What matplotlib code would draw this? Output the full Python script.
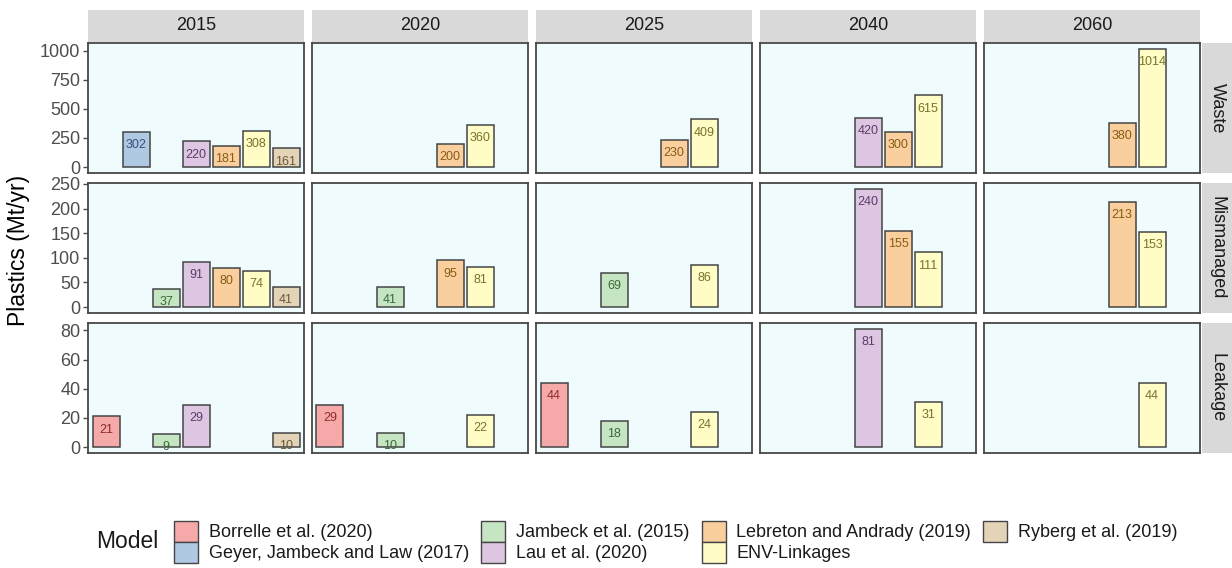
import matplotlib
matplotlib.use("Agg")
import matplotlib.pyplot as plt
from matplotlib.patches import Patch

plt.rcParams["font.family"] = ["Liberation Sans", "DejaVu Sans"]

# ---- data -------------------------------------------------------------
years = ["2015", "2020", "2025", "2040", "2060"]
metrics = ["Waste", "Mismanaged", "Leakage"]
models = [
    "Borrelle et al. (2020)",
    "Geyer, Jambeck and Law (2017)",
    "Jambeck et al. (2015)",
    "Lau et al. (2020)",
    "Lebreton and Andrady (2019)",
    "ENV-Linkages",
    "Ryberg et al. (2019)",
]

# values per model, one entry per year (None = not reported)
waste = {
    "Geyer, Jambeck and Law (2017)": [302, None, None, None, None],
    "Lau et al. (2020)":             [220, None, None, 420, None],
    "Lebreton and Andrady (2019)":   [181, 200, 230, 300, 380],
    "ENV-Linkages":                  [308, 360, 409, 615, 1014],
    "Ryberg et al. (2019)":          [161, None, None, None, None],
}
mismanaged = {
    "Jambeck et al. (2015)":         [37, 41, 69, None, None],
    "Lau et al. (2020)":             [91, None, None, 240, None],
    "Lebreton and Andrady (2019)":   [80, 95, None, 155, 213],
    "ENV-Linkages":                  [74, 81, 86, 111, 153],
    "Ryberg et al. (2019)":          [41, None, None, None, None],
}
leakage = {
    "Borrelle et al. (2020)":        [21, 29, 44, None, None],
    "Jambeck et al. (2015)":         [9, 10, 18, None, None],
    "Lau et al. (2020)":             [29, None, None, 81, None],
    "ENV-Linkages":                  [None, 22, 24, 31, 44],
    "Ryberg et al. (2019)":          [10, None, None, None, None],
}
metric_data = [waste, mismanaged, leakage]
metric_ticks = [
    [0, 250, 500, 750, 1000],
    [0, 50, 100, 150, 200, 250],
    [0, 20, 40, 60, 80],
]

fills = {
    "Borrelle et al. (2020)":        "#F6A9A9",
    "Geyer, Jambeck and Law (2017)": "#AFC9E2",
    "Jambeck et al. (2015)":         "#C6E5C3",
    "Lau et al. (2020)":             "#DCC6E2",
    "Lebreton and Andrady (2019)":   "#F9CF9E",
    "ENV-Linkages":                  "#FFFCC6",
    "Ryberg et al. (2019)":          "#E3D4B8",
}
text_cols = {
    "Borrelle et al. (2020)":        "#8E2B2B",
    "Geyer, Jambeck and Law (2017)": "#34507A",
    "Jambeck et al. (2015)":         "#3A6B38",
    "Lau et al. (2020)":             "#5B3E6B",
    "Lebreton and Andrady (2019)":   "#8A5A14",
    "ENV-Linkages":                  "#77742A",
    "Ryberg et al. (2019)":          "#6A5738",
}

# ---- layout (pixels) ---------------------------------------------------
W, H = 1232, 568
fig = plt.figure(figsize=(W / 100, H / 100), dpi=100)
fig.patch.set_facecolor("white")

col_left = [88, 312, 536, 760, 984]
row_top = [43, 183, 323]
pw, ph = 216, 130
panel_bg = "#F0FBFD"
border = "#474747"
strip_bg = "#D9D9D9"
small = 13


def fig_rect(x, y, w, h):
    return [x / W, 1 - (y + h) / H, w / W, h / H]


xpos = {m: i + 1 for i, m in enumerate(models)}

for r, (metric, data) in enumerate(zip(metrics, metric_data)):
    ymax = max(v for vals in data.values() for v in vals if v is not None)
    lo, hi = -0.05 * ymax, ymax * 1.05
    for c, year in enumerate(years):
        ax = fig.add_axes(fig_rect(col_left[c], row_top[r], pw, ph))
        ax.set_facecolor(panel_bg)
        ax.set_xlim(0.4, 7.6)
        ax.set_ylim(lo, hi)
        for m in models:
            if m not in data:
                continue
            v = data[m][c]
            if v is None:
                continue
            ax.bar(xpos[m], v, width=0.9, color=fills[m],
                   edgecolor="#454545", linewidth=1.1, zorder=2)
            ax.annotate(str(v), (xpos[m], v), xytext=(0, -9.5),
                        textcoords="offset points", ha="center",
                        va="center", fontsize=9, color=text_cols[m],
                        zorder=3)
        for s in ax.spines.values():
            s.set_color(border)
            s.set_linewidth(1.3)
            s.set_zorder(4)
        ax.set_xticks([])
        ax.set_yticks(metric_ticks[r])
        if c == 0:
            ax.tick_params(axis="y", length=3.5, width=1, color="#4d4d4d",
                           labelsize=small, labelcolor="#4d4d4d", pad=2)
        else:
            ax.tick_params(axis="y", length=0, labelleft=False)

        # column strip
        if r == 0:
            sa = fig.add_axes(fig_rect(col_left[c], 10, pw, 32))
            sa.set_facecolor(strip_bg)
            sa.set_xticks([]); sa.set_yticks([])
            for s in sa.spines.values():
                s.set_visible(False)
            sa.text(0.5, 0.5, year, ha="center", va="center",
                    fontsize=small, color="#1a1a1a", transform=sa.transAxes)

    # row strip
    sr = fig.add_axes(fig_rect(1202, row_top[r], 30, ph))
    sr.set_facecolor(strip_bg)
    sr.set_xticks([]); sr.set_yticks([])
    for s in sr.spines.values():
        s.set_visible(False)
    sr.text(0.5, 0.5, metric, ha="center", va="center", rotation=-90,
            fontsize=small, color="#1a1a1a", transform=sr.transAxes)

fig.text(19 / W, 1 - 250 / H, "Plastics (Mt/yr)", rotation=90,
         ha="center", va="center", fontsize=16.5, color="black")

# ---- legend -------------------------------------------------------------
handles = [Patch(facecolor=fills[m], edgecolor="#454545", linewidth=1.0,
                 label=m) for m in models]
fig.legend(handles=handles, loc="upper left",
           bbox_to_anchor=(165 / W, 1 - 512 / H), ncol=4, frameon=False,
           fontsize=small, borderpad=0, handlelength=1.33, handleheight=1.38,
           handletextpad=0.6, labelspacing=0.02, columnspacing=0.67,
           labelcolor="#1a1a1a")
fig.text(96 / W, 1 - 541 / H, "Model", ha="left", va="center",
         fontsize=16.5, color="#1a1a1a")

fig.savefig("out.png", dpi=100)
